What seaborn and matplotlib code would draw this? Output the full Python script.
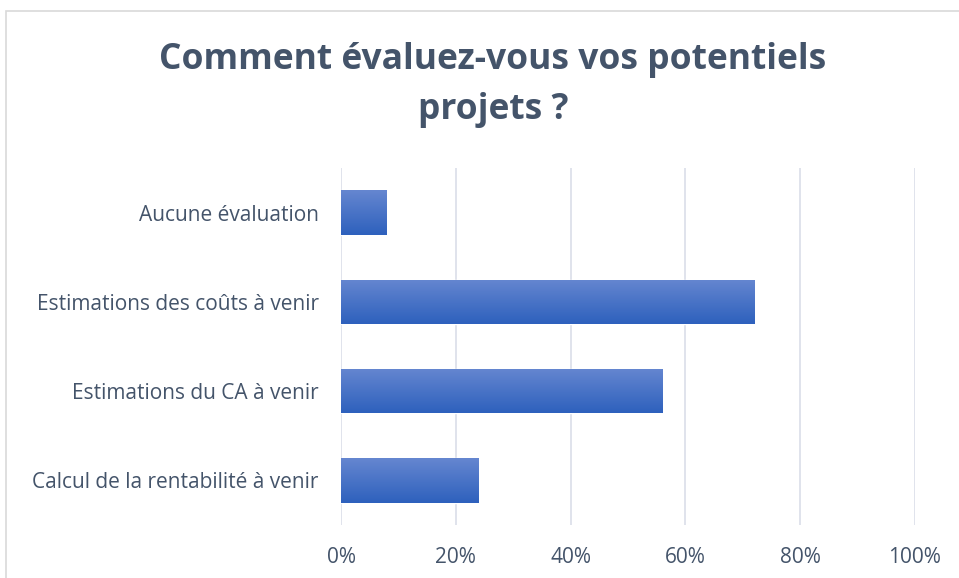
import numpy as np
import pandas as pd
import seaborn as sns
import matplotlib.pyplot as plt
from matplotlib.patches import Rectangle
from matplotlib.ticker import PercentFormatter
from matplotlib.colors import LinearSegmentedColormap

categories = ["Aucune évaluation", "Estimations des coûts à venir",
              "Estimations du CA à venir", "Calcul de la rentabilité à venir"]
values = [8, 72, 56, 24]
title = "Comment évaluez-vous vos potentiels\nprojets ?"

df = pd.DataFrame({"cat": categories, "val": values})

sns.set_style("white")
plt.rcParams['font.family'] = ['Open Sans', 'DejaVu Sans']
txt = "#44546A"

fig = plt.figure(figsize=(9.59, 5.78), dpi=100)
ax = fig.add_axes([341/959, 1-525/578, (915-341)/959, (525-168)/578])

sns.barplot(data=df, x="val", y="cat", color="#4472C4", width=0.5, ax=ax, zorder=2)

# vertical gradient on each bar (Excel-like)
grad = np.linspace(0, 1, 100).reshape(-1, 1)
cmap = LinearSegmentedColormap.from_list("g", ["#6586D0", "#2E61BD"])
for p in ax.patches:
    x0, y0 = p.get_x(), p.get_y()
    w, h = p.get_width(), p.get_height()
    im = ax.imshow(grad, cmap=cmap, aspect="auto", extent=[x0, x0 + w, y0 + h, y0],
                   origin="upper", zorder=3)
    im.set_clip_path(p)

ax.set_xlim(0, 100)
ax.set_ylim(3.5, -0.5)
ax.set_xticks(range(0, 101, 20))
ax.xaxis.set_major_formatter(PercentFormatter(decimals=0))
ax.grid(axis="x", color="#DDE1EA", linewidth=1.3, zorder=0)
ax.grid(axis="y", visible=False)
ax.set_axisbelow(True)
for s in ax.spines.values():
    s.set_visible(False)
ax.set_xlabel("")
ax.set_ylabel("")
ax.tick_params(axis="both", length=0, labelsize=15, labelcolor=txt)
ax.tick_params(axis="x", pad=16)
ax.tick_params(axis="y", pad=16)

fig.text(493/959, 1-85/578, title, ha="center", va="center", fontsize=25.5,
         fontweight="bold", color=txt, linespacing=1.55)

fig.patches.append(Rectangle((6/959, -0.1), 1.2, 1.1 - 11/578, transform=fig.transFigure,
                             fill=False, edgecolor="#D9D9D9", linewidth=1.2))

fig.savefig("out.png", dpi=100)
